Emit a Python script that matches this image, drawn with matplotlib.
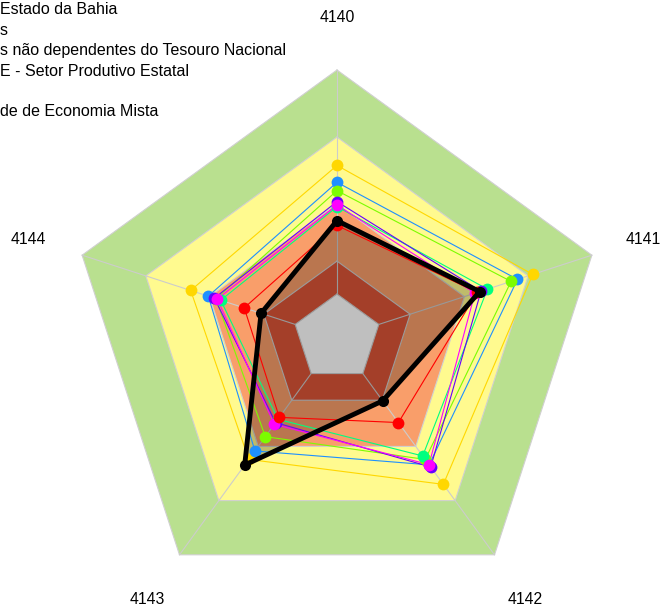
import numpy as np
import matplotlib
matplotlib.use("Agg")
import matplotlib.pyplot as plt

plt.rcParams['font.family'] = ['Liberation Sans', 'DejaVu Sans']

# eixos do radar (sentido horario a partir do topo)
eixos = ["4140", "4141", "4142", "4143", "4144"]

# faixas de fundo (raio relativo) e cores
faixas_r = [1.0, 0.75, 0.5, 0.287, 0.164]
faixas_cor = ["#B9E08F", "#FFFA8F", "#F99E6A", "#DC5538", "#FFFFFF"]

# series (raio relativo por eixo)
s_gold = [0.644, 0.768, 0.675, 0.560, 0.574]
s_blue = [0.581, 0.708, 0.585, 0.521, 0.505]
s_lawn = [0.550, 0.683, 0.560, 0.455, 0.475]
s_spring = [0.490, 0.590, 0.544, 0.375, 0.456]
s_purple = [0.509, 0.565, 0.595, 0.390, 0.481]
s_magenta = [0.496, 0.541, 0.584, 0.398, 0.470]
s_red = [0.420, 0.550, 0.390, 0.366, 0.364]
s_black = [0.438, 0.560, 0.290, 0.586, 0.298]

series = [s_gold, s_blue, s_lawn, s_spring, s_purple, s_magenta, s_red]
cores = ["#FFD700", "#1E90FF", "#7CFC00", "#00FF7F", "#6600FF", "#FF00FF", "#FF0000"]

legenda = ["Estado da Bahia", "s", "s não dependentes do Tesouro Nacional",
           "E - Setor Produtivo Estatal", "", "de de Economia Mista"]

ang = np.pi / 2 - np.arange(len(eixos)) * 2 * np.pi / len(eixos)


def xy(r):
    r = np.asarray(r, dtype=float)
    x = r * np.cos(ang)
    y = r * np.sin(ang)
    return np.append(x, x[0]), np.append(y, y[0])


fig = plt.figure(figsize=(6.61, 6.10), dpi=100)
ax = fig.add_axes([0, 0, 1, 1])
R = 268.0
ax.set_xlim(-337 / R, (661 - 337) / R)
ax.set_ylim(-(610 - 338) / R, 338 / R)
ax.axis("off")

# bandas
for r, c in zip(faixas_r, faixas_cor):
    x, y = xy([r] * 5)
    ax.fill(x, y, color=c, lw=0, zorder=1)
    ax.plot(x, y, color="#D0D0D0", lw=0.8, zorder=2)

# raios
for a in ang:
    ax.plot([0.164 * np.cos(a), np.cos(a)], [0.164 * np.sin(a), np.sin(a)],
            color="#CCCCCC", lw=0.8, zorder=2)

# preenchimento da serie preta
x, y = xy(s_black)
ax.fill(x, y, color="black", alpha=0.25, lw=0, zorder=3)

for s, c in zip(series, cores):
    x, y = xy(s)
    ax.plot(x, y, color=c, lw=0.8, zorder=4)
    ax.plot(x[:-1], y[:-1], "o", color=c, ms=8.5, mec="none", zorder=5)

x, y = xy(s_black)
ax.plot(x, y, color="black", lw=3.5, zorder=6)
ax.plot(x[:-1], y[:-1], "o", color="black", ms=8, mec="none", zorder=7)

# rotulos dos eixos
pos_lab = [(337, 17), (643, 240), (525, 600), (147, 600), (28, 240)]
for lab, (px, py) in zip(eixos, pos_lab):
    ax.text((px - 337) / R, (338 - py) / R, lab, ha="center", va="center",
            fontsize=11.3, color="black")

# legenda (cortada a esquerda)
for i, t in enumerate(legenda):
    fig.text(0.0, 1 - (10 + i * 20.4) / 610, t, ha="left", va="center",
             fontsize=11.5, color="black")

fig.savefig("out.png", dpi=100)
